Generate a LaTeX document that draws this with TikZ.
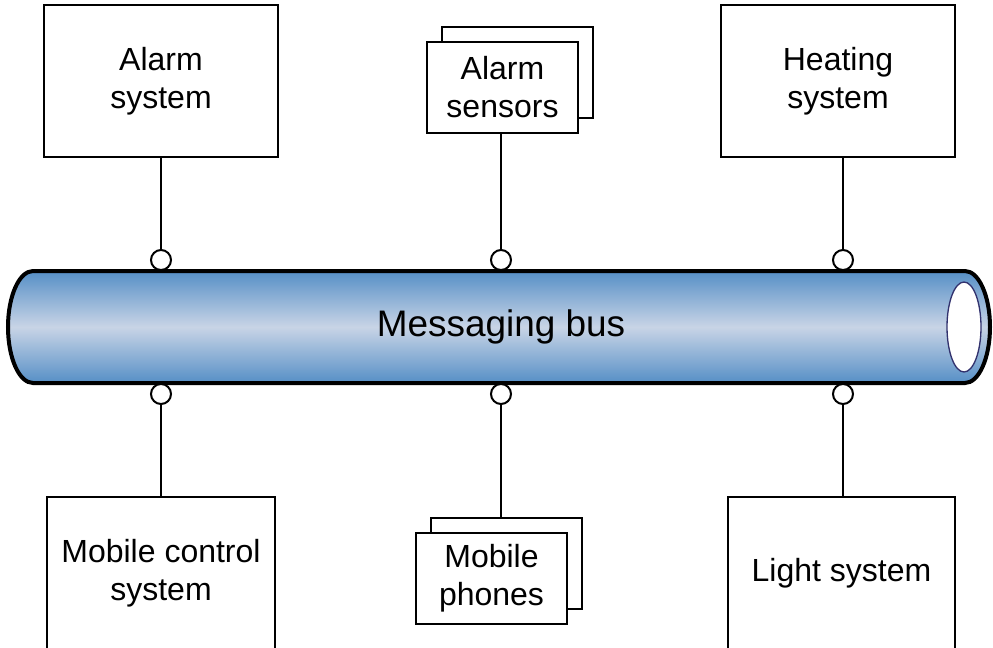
\documentclass[tikz,border=0pt]{standalone}
\usepackage{xcolor}
\usepackage{fontspec}
\setmainfont{Liberation Sans}

\definecolor{busedge}{RGB}{86,143,198}
\definecolor{busmid}{RGB}{200,212,230}
\definecolor{holeline}{RGB}{50,50,110}

\tikzset{
  unit/.style={draw=black, line width=1.5pt, fill=white, inner sep=0pt, align=center,
    font=\fontsize{24}{28.5}\selectfont},
  port/.style={circle, draw=black, line width=1.5pt, fill=white, inner sep=0pt, minimum size=15pt},
  wire/.style={line width=1.5pt}
}

\begin{document}
\begin{tikzpicture}[x=0.75pt,y=0.75pt,yscale=-1,xscale=1]
            \clip (0,0) rectangle (993,647); %set diagram size 993 x 647
            
            %Shape: Cylinder [id:bus] 
            \draw [line width=3pt, top color=busedge, bottom color=busedge, middle color=busmid]
              (33,271) -- (965,271) arc [start angle=-90, end angle=90, x radius=25, y radius=56]
              -- (33,383) arc [start angle=90, end angle=270, x radius=25, y radius=56] -- cycle ;
            %Shape: Ellipse [id:hole] 
            \draw [color=holeline, line width=1pt, fill=white] (964,327) ellipse [x radius=17, y radius=45] ;
            % Text Node
            \node (bus) at (501,327) [font=\fontsize{27.7}{33}\selectfont] {Messaging bus};
            
            % Ports
            \node (alarmport) at (161,260) [port] {};
            \node (sensorport) at (501,260) [port] {};
            \node (heatport) at (843,260) [port] {};
            \node (controlport) at (161,394) [port] {};
            \node (phoneport) at (501,394) [port] {};
            \node (lightport) at (843,394) [port] {};
            
            % Upper units
            \node (alarm) at (161,81) [unit, minimum width=175.5pt, minimum height=114pt] {Alarm\\system};
            \node (sensorsback) at (517.5,72.5) [unit, minimum width=113.25pt, minimum height=68.25pt] {};
            \node (sensors) at (502.5,87.5) [unit, minimum width=113.25pt, minimum height=68.25pt] {Alarm\\sensors};
            \node (heating) at (838,81) [unit, minimum width=175.5pt, minimum height=114pt] {Heating\\system};
            
            % Lower units
            \node (control) at (161,573) [unit, minimum width=171pt, minimum height=114pt] {Mobile control\\system};
            \node (phonesback) at (506.5,563.5) [unit, minimum width=113.25pt, minimum height=68.25pt] {};
            \node (phones) at (491.5,578.5) [unit, minimum width=113.25pt, minimum height=68.25pt] {Mobile\\phones};
            \node (light) at (841.5,573) [unit, minimum width=170pt, minimum height=114pt] {Light system};
            
            %Straight Lines
            \draw [wire] (alarm.south) -- (alarmport) ;
            \draw [wire] (sensorport |- sensors.south) -- (sensorport) ;
            \draw [wire] (heatport |- heating.south) -- (heatport) ;
            \draw [wire] (controlport) -- (control.north) ;
            \draw [wire] (phoneport) -- (phoneport |- phonesback.north) ;
            \draw [wire] (lightport) -- (lightport |- light.north) ;
            
\end{tikzpicture}
\end{document}
